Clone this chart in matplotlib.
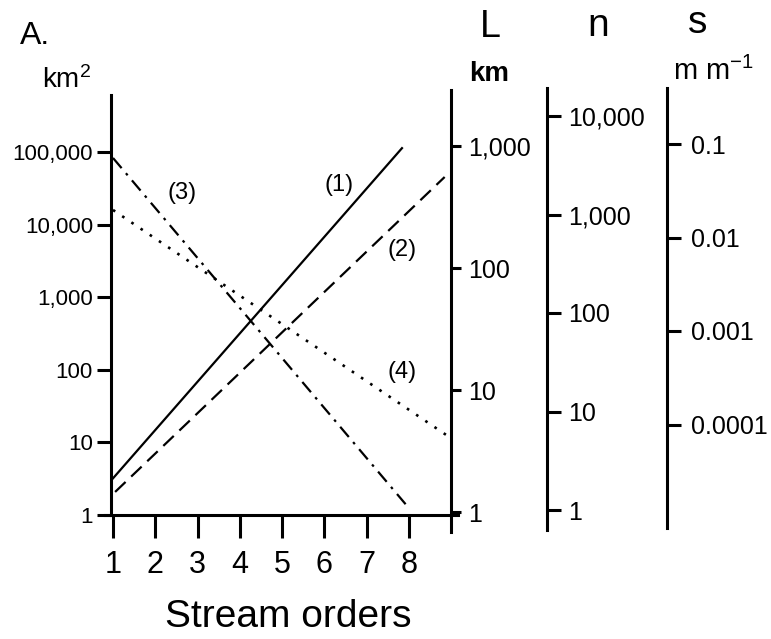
import matplotlib
matplotlib.use("Agg")
import matplotlib.pyplot as plt
from matplotlib.ticker import NullLocator, FixedLocator, FixedFormatter

plt.rcParams["font.family"] = ["Liberation Sans", "DejaVu Sans"]
plt.rcParams["mathtext.fontset"] = "custom"
plt.rcParams["mathtext.rm"] = "Liberation Sans"
plt.rcParams["mathtext.it"] = "Liberation Sans"

# stream order axis
orders = [1, 2, 3, 4, 5, 6, 7, 8]

# (1) drainage area, km2 (left axis)
area_orders = [1, 7.84]
area_km2 = [3.2, 1.13e5]
# (2) stream length, km (L axis)
length_orders = [1.05, 8.85]
length_km = [1.46, 557]
# (3) number of streams (n axis)
number_orders = [1, 8]
number_n = [3750, 1.05]
# (4) channel slope, m/m (s axis)
slope_orders = [1, 8.93]
slope_s = [0.0197, 7.5e-5]

area_ticks = [1, 10, 100, 1000, 10000, 100000]
area_labels = ["1", "10", "100", "1,000", "10,000", "100,000"]
length_ticks = [1, 10, 100, 1000]
length_labels = ["1", "10", "100", "1,000"]
number_ticks = [1, 10, 100, 1000, 10000]
number_labels = ["1", "10", "100", "1,000", "10,000"]
slope_ticks = [0.1, 0.01, 0.001, 0.0001]
slope_labels = ["0.1", "0.01", "0.001", "0.0001"]

W, H = 771, 639
LW_AX = 2.2
X0, X1 = 105, 458          # pixel extent of the plotting frame
PX_ORDER = 42.25           # pixels per stream order
X_ORDER1 = 113             # pixel of order 1


def rect(x0, y0, x1, y1):
    return [x0 / W, 1 - y1 / H, (x1 - x0) / W, (y1 - y0) / H]


def px_to_order(px):
    return 1 + (px - X_ORDER1) / PX_ORDER


def frac(px):
    return (px - X0) / (X1 - X0)


def log_lim(y_bottom, y_top, y_one, px_per_decade, one=1.0):
    import math
    base = math.log10(one)
    lo = base + (y_one - y_bottom) / px_per_decade
    hi = base + (y_one - y_top) / px_per_decade
    return 10 ** lo, 10 ** hi


def side_axis(fig, y_top, y_bottom, ylim, ticks, labels, spine_px, xlim, tick_len):
    ax = fig.add_axes(rect(X0, y_top, X1, y_bottom))
    ax.patch.set_alpha(0)
    ax.set_xlim(*xlim)
    ax.set_yscale("log")
    ax.set_ylim(*ylim)
    for k in ["left", "top", "bottom"]:
        ax.spines[k].set_visible(False)
    ax.spines["right"].set_linewidth(LW_AX)
    ax.spines["right"].set_position(("axes", frac(spine_px)))
    ax.yaxis.tick_right()
    ax.yaxis.set_major_locator(FixedLocator(ticks))
    ax.yaxis.set_major_formatter(FixedFormatter(labels))
    ax.yaxis.set_minor_locator(NullLocator())
    ax.tick_params(axis="y", direction="out", length=tick_len, width=LW_AX,
                   labelsize=18, pad=5)
    ax.set_xticks([])
    return ax


fig = plt.figure(figsize=(7.71, 6.39), dpi=100)

xlim = (px_to_order(X0), px_to_order(X1))

# main axes: drainage area
ax = fig.add_axes(rect(X0, 95, X1, 515))
ax.set_xlim(*xlim)
ax.set_yscale("log")
ax.set_ylim(1, 10 ** (420 / 72.6))
ax.spines["top"].set_visible(False)
ax.spines["right"].set_visible(False)
ax.spines["left"].set_linewidth(LW_AX)
ax.spines["left"].set_position(("axes", frac(111)))
ax.spines["bottom"].set_linewidth(LW_AX)
ax.yaxis.set_major_locator(FixedLocator(area_ticks))
ax.yaxis.set_major_formatter(FixedFormatter(area_labels))
ax.yaxis.set_minor_locator(NullLocator())
ax.set_xticks(orders)
ax.set_xticklabels([str(o) for o in orders])
ax.tick_params(axis="y", direction="out", length=10, width=LW_AX, labelsize=16, pad=3)
ax.tick_params(axis="x", direction="out", length=16.5, width=LW_AX, labelsize=22, pad=9)
ax.set_xlabel("Stream orders", fontsize=28, labelpad=12)
ax.xaxis.set_label_coords(frac(288), -0.2)
ax.plot(area_orders, area_km2, color="black", lw=1.6, ls="-")

# L axis (km)
axL = side_axis(fig, 90, 532, log_lim(532, 90, 512, 122),
                length_ticks, length_labels, 451, xlim, 7)
axL.plot(length_orders, length_km, color="black", lw=1.6, ls=(0, (6.5, 3.5)))

# n axis
axN = side_axis(fig, 88, 530, log_lim(530, 88, 510, 98.5),
                number_ticks, number_labels, 547, xlim, 10)
axN.plot(number_orders, number_n, color="black", lw=1.6, ls=(0, (6, 3, 1.2, 3)))

# s axis (m m-1)
axS = side_axis(fig, 88, 528, log_lim(528, 88, 144, 93.5, one=0.1),
                slope_ticks, slope_labels, 667, xlim, 10)
axS.tick_params(axis="y", pad=7)
axS.plot(slope_orders, slope_s, color="black", lw=1.9, ls=(0, (1.0, 3.2)))

# curve labels
ax.text(6.35, 10 ** 4.545, "(1)", fontsize=17, ha="center", va="center")
ax.text(7.84, 10 ** 3.65, "(2)", fontsize=17, ha="center", va="center")
ax.text(2.63, 10 ** 4.43, "(3)", fontsize=17, ha="center", va="center")
ax.text(7.84, 10 ** 1.97, "(4)", fontsize=17, ha="center", va="center")

# headers
fig.text(20 / W, 1 - 44 / H, "A.", fontsize=23, ha="left", va="baseline")
fig.text(42 / W, 1 - 88 / H, "km$^2$", fontsize=20, ha="left", va="baseline")
fig.text(490 / W, 1 - 37 / H, "L", fontsize=27, ha="center", va="baseline")
fig.text(489 / W, 1 - 81 / H, "km", fontsize=20, ha="center", va="baseline",
         fontweight="bold")
fig.text(598 / W, 1 - 36 / H, "n", fontsize=28, ha="center", va="baseline")
fig.text(698 / W, 1 - 33 / H, "s", fontsize=28, ha="center", va="baseline")
fig.text(673 / W, 1 - 80 / H, "m m$^{-1}$", fontsize=21, ha="left", va="baseline")

fig.savefig("out.png", dpi=100)
